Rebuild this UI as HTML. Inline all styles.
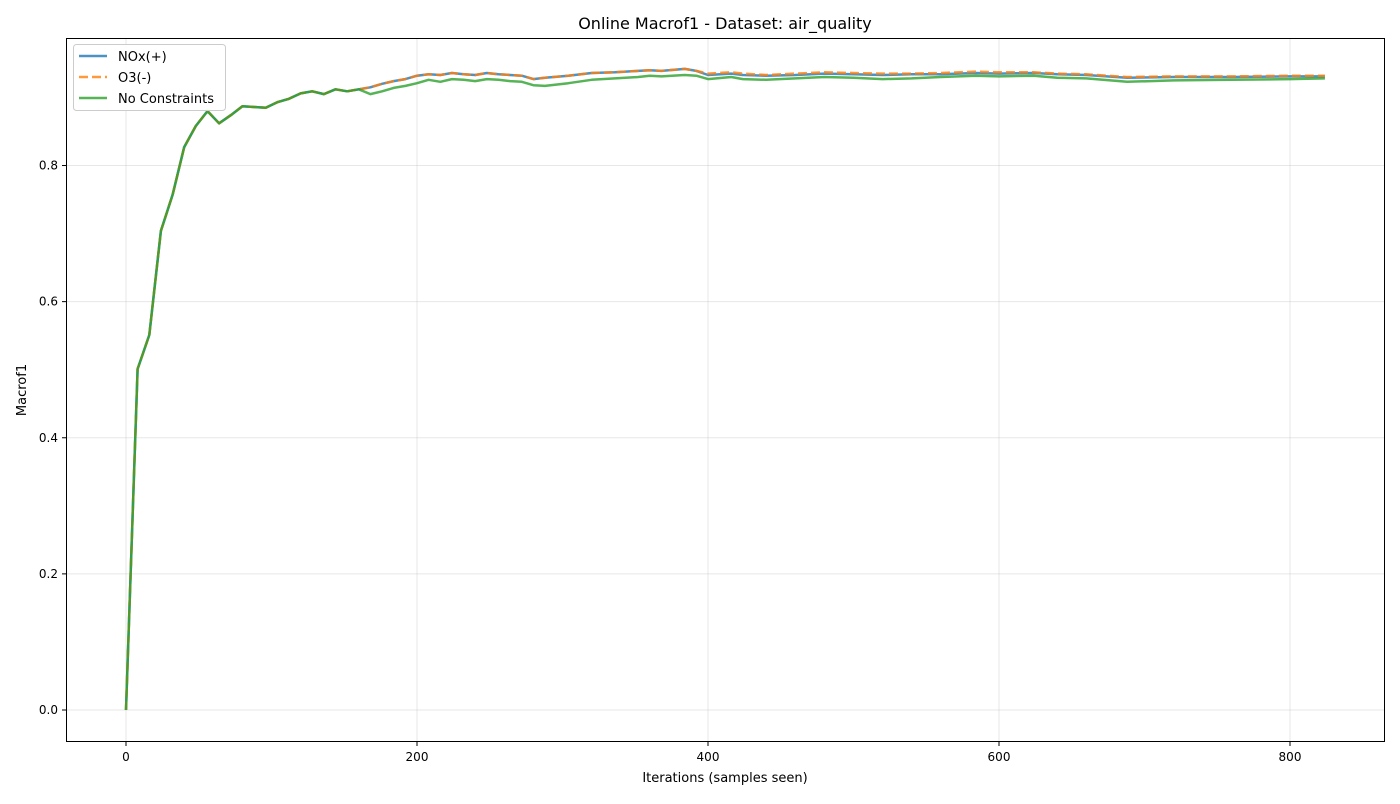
<!DOCTYPE html>
<html><head><meta charset="utf-8"><style>
body{margin:0;background:#fff;font-family:"DejaVu Sans","Liberation Sans",sans-serif;}
svg text{font-family:"DejaVu Sans","Liberation Sans",sans-serif;}
</style></head><body>
<svg id="chart" width="1400" height="800" xmlns="http://www.w3.org/2000/svg">
<rect width="1400" height="800" fill="#fff"/>
<text x="725" y="29" font-size="16" text-anchor="middle">Online Macrof1 - Dataset: air_quality</text>
<g id="grid"></g><g id="ticks"></g><g id="lines"></g>
<rect x="66.5" y="38.5" width="1318" height="703" fill="none" stroke="#000" stroke-width="1"/>
<text x="725" y="782" font-size="13" text-anchor="middle">Iterations (samples seen)</text>
<text transform="translate(26,390) rotate(-90)" font-size="13" text-anchor="middle">Macrof1</text>
<g>
<rect x="73.5" y="44.5" width="152" height="66" rx="3" fill="#fff" fill-opacity="0.92" stroke="#ccc"/>
<line x1="79" y1="56" x2="107" y2="56" stroke="#1f77b4" stroke-opacity="0.8" stroke-width="2.5"/>
<text x="118" y="61" font-size="13">NOx(+)</text>
<line x1="79" y1="77" x2="107" y2="77" stroke="#ff7f0e" stroke-opacity="0.8" stroke-width="2.5" stroke-dasharray="9,4"/>
<text x="118" y="82" font-size="13">O3(-)</text>
<line x1="79" y1="98" x2="107" y2="98" stroke="#2ca02c" stroke-opacity="0.8" stroke-width="2.5"/>
<text x="118" y="103" font-size="13">No Constraints</text>
</g>
</svg>
<script>
const xs=[0,8,16,24,32,40,48,56,64,72,80,88,96,104,112,120,128,136,144,152,160,
168,176,184,192,200,208,216,224,232,240,248,256,264,272,280,288,304,320,336,352,360,368,384,392,400,416,424,440,460,480,500,520,540,560,584,600,624,640,660,688,720,760,800,824];
const common=[0,0.501,0.551,0.704,0.757,0.827,0.858,0.880,0.862,0.874,0.887,0.886,0.885,0.893,0.898,0.906,0.909,0.905,0.912,0.909,0.912];
const noxTail=[0.915,0.920,0.924,0.927,0.932,0.934,0.933,0.936,0.934,0.933,0.936,0.934,0.933,0.932,0.927,0.929,0.932,0.936,0.937,0.939,0.940,0.939,0.942,0.939,0.933,0.935,0.933,0.932,0.933,0.935,0.934,0.933,0.934,0.934,0.936,0.935,0.936,0.934,0.933,0.929,0.930,0.930,0.931,0.931];
const o3Tail=[0.915,0.920,0.924,0.927,0.932,0.934,0.933,0.936,0.934,0.933,0.936,0.934,0.933,0.932,0.927,0.929,0.932,0.936,0.937,0.939,0.940,0.939,0.942,0.939,0.935,0.937,0.935,0.933,0.935,0.937,0.936,0.935,0.935,0.936,0.938,0.937,0.937,0.935,0.934,0.930,0.931,0.931,0.932,0.932];
const ncTail=[0.905,0.909,0.914,0.917,0.921,0.926,0.923,0.927,0.926,0.924,0.927,0.926,0.924,0.923,0.918,0.917,0.921,0.926,0.928,0.930,0.932,0.931,0.933,0.932,0.927,0.930,0.927,0.926,0.928,0.930,0.929,0.927,0.928,0.930,0.932,0.931,0.932,0.929,0.928,0.923,0.925,0.926,0.927,0.928];
const nox=common.concat(noxTail), o3=common.concat(o3Tail), nc=common.concat(ncTail);
const xTicks=[0,200,400,600,800], yTicks=[0.0,0.2,0.4,0.6,0.8];
const xTickLabels=["0","200","400","600","800"], yTickLabels=["0.0","0.2","0.4","0.6","0.8"];
const X=v=>126+v*(1290-126)/800, Y=v=>710-v*680.6;
const NS="http://www.w3.org/2000/svg";
function mk(t,a,p){const e=document.createElementNS(NS,t);for(const k in a)e.setAttribute(k,a[k]);p.appendChild(e);return e;}
const g=document.getElementById('grid'),tk=document.getElementById('ticks'),ln=document.getElementById('lines');
xTicks.forEach((v,i)=>{
 const l=mk('line',{x1:X(v),x2:X(v),y1:38,y2:742,stroke:'#b0b0b0','stroke-opacity':0.3},g);
 
 
 mk('line',{x1:X(v),x2:X(v),y1:742,y2:746,stroke:'#000'},tk);
 const t=mk('text',{x:X(v),y:761,'font-size':12,'text-anchor':'middle'},tk);t.textContent=xTickLabels[i];
 
 
});
yTicks.forEach((v,i)=>{
 const l=mk('line',{x1:66,x2:1385,y1:Y(v),y2:Y(v),stroke:'#b0b0b0','stroke-opacity':0.3},g);
 
 
 mk('line',{x1:62,x2:66,y1:Y(v),y2:Y(v),stroke:'#000'},tk);
 const t=mk('text',{x:58,y:Y(v)+4,'font-size':12,'text-anchor':'end'},tk);t.textContent=yTickLabels[i];
 
 
});
function path(vals,color,dash,name){
 const d=vals.map((v,i)=>(i?'L':'M')+X(xs[i]).toFixed(1)+','+Y(v).toFixed(1)).join('');
 const p=mk('path',{d:d,fill:'none',stroke:color,'stroke-opacity':0.8,'stroke-width':2.5,'stroke-linejoin':'round'},ln);
 if(dash)p.setAttribute('stroke-dasharray',dash);
 
 
}
path(nox,'#1f77b4',null,'nox-line');
path(o3,'#ff7f0e','9,4','o3-line');
path(nc,'#2ca02c',null,'no-constraints-line');
</script>
</body></html>
